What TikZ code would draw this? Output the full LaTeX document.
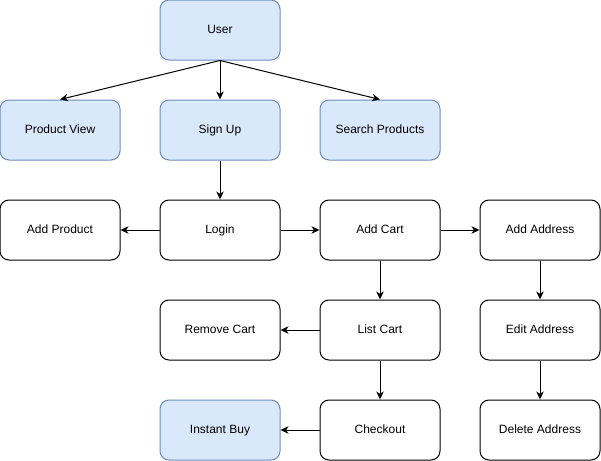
\documentclass[tikz,border=0pt]{standalone}
\usepackage{fontspec}
\setmainfont{Liberation Sans}
\usetikzlibrary{arrows.meta, positioning}
\definecolor{ufill}{HTML}{DAE8FC}
\definecolor{udraw}{HTML}{6C8EBF}
\tikzset{
  % scatola generica
  box/.style={draw=black, line width=0.75pt, rounded corners=6.75pt,
    minimum height=45pt, minimum width=90pt, align=center, fill=white,
    font=\fontsize{9pt}{11pt}\selectfont, inner sep=0pt,
    text height=6.8pt, text depth=2.2pt},
  % scatola evidenziata
  ubox/.style={box, draw=udraw, fill=ufill},
  % freccia
  flow/.style={-{Stealth[length=6pt, width=5.5pt, inset=1.8pt]}, line width=0.75pt},
}
\begin{document}
\begin{tikzpicture}[x=0.75pt, y=-0.75pt]
  \useasboundingbox (0,0) rectangle (601,461);
  % prima e seconda riga
  \node[ubox] (user) at (220,30) {User};
  \node[ubox] (pview) at (60,130) {Product View};
  \node[ubox] (signup) at (220,130) {Sign Up};
  \node[ubox] (search) at (380,130) {Search Products};
  % terza riga
  \node[box] (addprod) at (60,230) {Add Product};
  \node[box] (login) at (220,230) {Login};
  \node[box] (addcart) at (380,230) {Add Cart};
  \node[box] (addaddr) at (540,230) {Add Address};
  % quarta e quinta riga
  \node[box] (remcart) at (220,330) {Remove Cart};
  \node[box] (listcart) at (380,330) {List Cart};
  \node[box] (editaddr) at (540,330) {Edit Address};
  \node[ubox] (instbuy) at (220,430) {Instant Buy};
  \node[box] (checkout) at (380,430) {Checkout};
  \node[box] (deladdr) at (540,430) {Delete Address};
  % collegamenti
  \draw[flow] (user.south) -- (pview.north);
  \draw[flow] (user.south) -- (signup.north);
  \draw[flow] (user.south) -- (search.north);
  \draw[flow] (signup) -- (login);
  \draw[flow] (login) -- (addprod);
  \draw[flow] (login) -- (addcart);
  \draw[flow] (addcart) -- (addaddr);
  \draw[flow] (addcart) -- (listcart);
  \draw[flow] (listcart) -- (remcart);
  \draw[flow] (listcart) -- (checkout);
  \draw[flow] (checkout) -- (instbuy);
  \draw[flow] (addaddr) -- (editaddr);
  \draw[flow] (editaddr) -- (deladdr);
\end{tikzpicture}
\end{document}
